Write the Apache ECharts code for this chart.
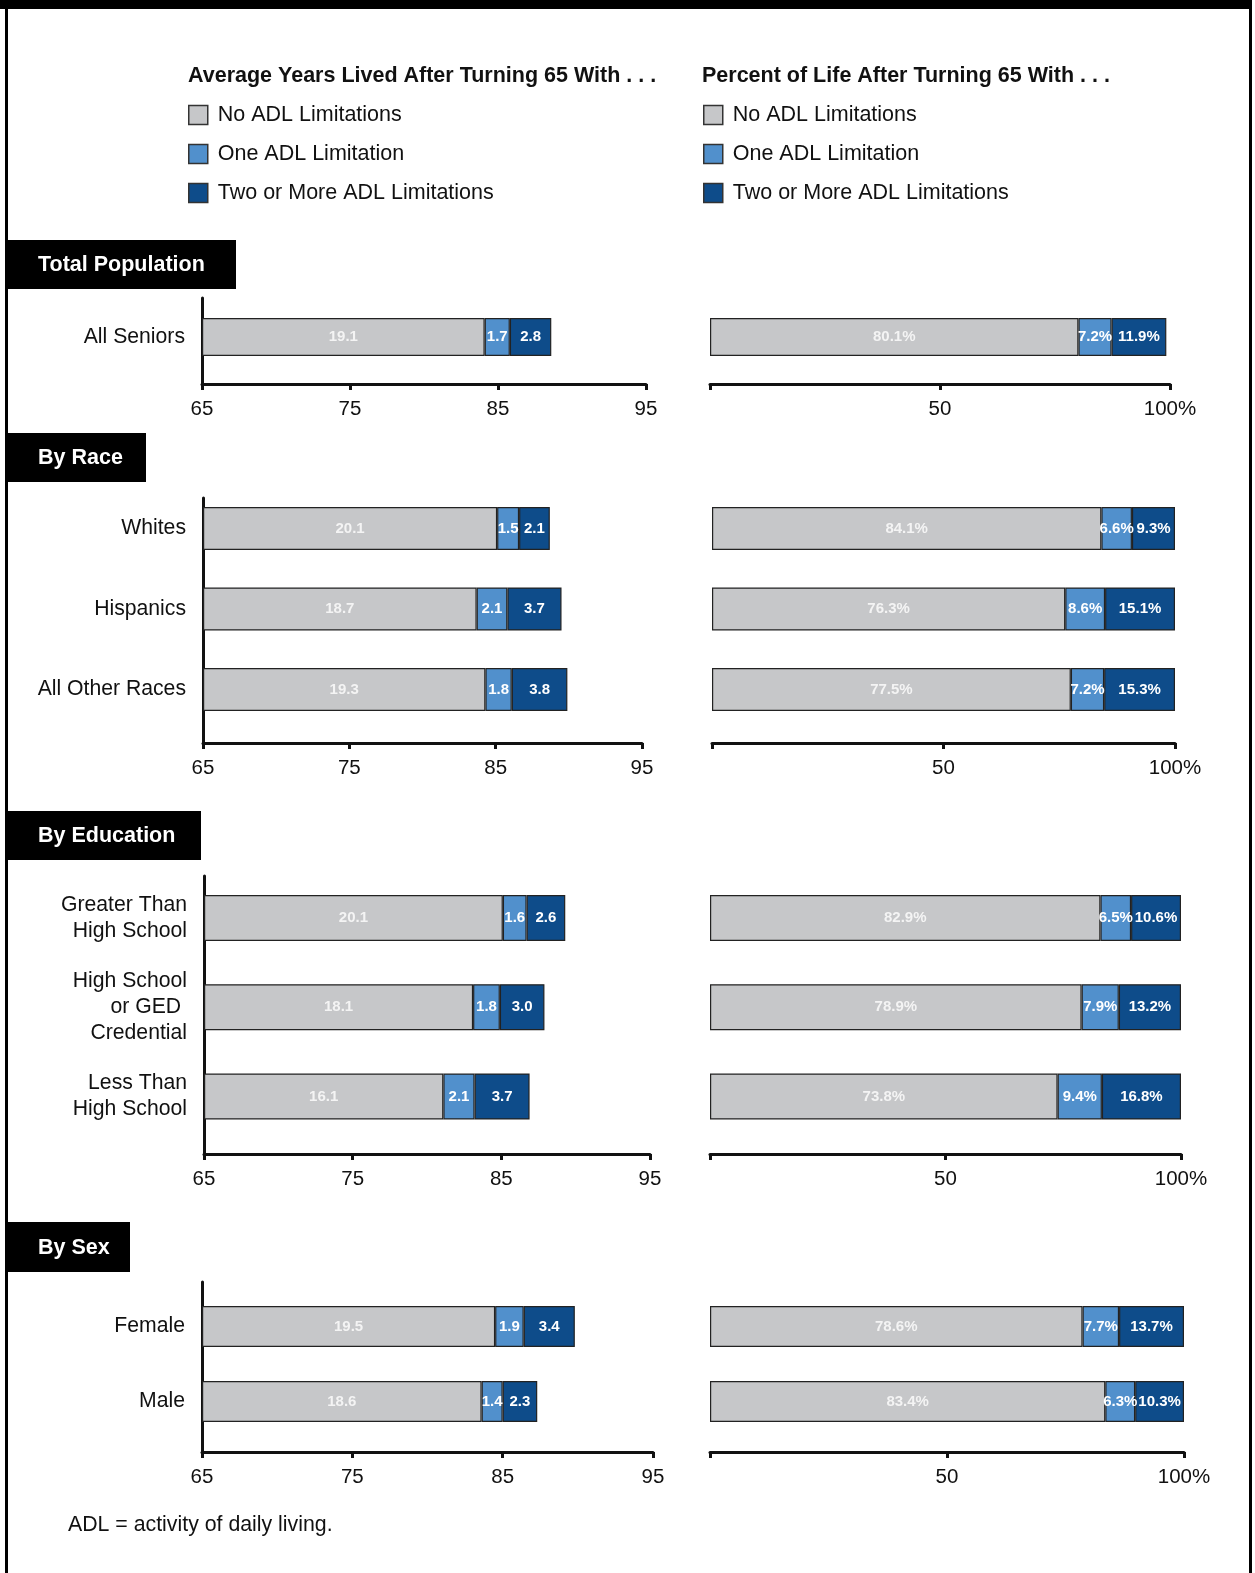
<!DOCTYPE html>
<html>
<head>
<meta charset="utf-8">
<script src="https://cdn.jsdelivr.net/npm/echarts@6/dist/echarts.min.js"></script>
<style>
  html, body { margin: 0; padding: 0; background: #fff; }
  #chart { width: 1255px; height: 1573px; }
</style>
</head>
<body>
<div id="chart"></div>
<script>
// ---- data ----
const seriesNames = ['No ADL Limitations', 'One ADL Limitation', 'Two or More ADL Limitations'];
const sectionTitles = ['Total Population', 'By Race', 'By Education', 'By Sex'];
const yearsLegendTitle = 'Average Years Lived After Turning 65 With . . .';
const percentLegendTitle = 'Percent of Life After Turning 65 With . . .';
const footnote = 'ADL = activity of daily living.';

// ages printed under the years axes (axis counts years lived after 65)
const ageTicks = [65, 75, 85, 95];
// labels printed under the percent axes at 0, 50, 100
const percentTicks = ['', '50', '100%'];

const totalCategories = ['All Seniors'];
const totalYears   = [[19.1], [1.7], [2.8]];
const totalPercent = [[80.1], [7.2], [11.9]];

const raceCategories = ['Whites', 'Hispanics', 'All Other Races'];
const raceYears   = [[20.1, 18.7, 19.3], [1.5, 2.1, 1.8], [2.1, 3.7, 3.8]];
const racePercent = [[84.1, 76.3, 77.5], [6.6, 8.6, 7.2], [9.3, 15.1, 15.3]];

const eduCategories = ['Greater Than\nHigh School', 'High School\nor GED \nCredential', 'Less Than\nHigh School'];
const eduYears   = [[20.1, 18.1, 16.1], [1.6, 1.8, 2.1], [2.6, 3.0, 3.7]];
const eduPercent = [[82.9, 78.9, 73.8], [6.5, 7.9, 9.4], [10.6, 13.2, 16.8]];

const sexCategories = ['Female', 'Male'];
const sexYears   = [[19.5, 18.6], [1.9, 1.4], [3.4, 2.3]];
const sexPercent = [[78.6, 83.4], [7.7, 6.3], [13.7, 10.3]];

// ---- styling / layout ----
const FONT = "'Liberation Sans', Arial, Helvetica, sans-serif";
const COLORS = ['#c6c7c9', '#5190cc', '#0e4c8a'];
const INK = '#111';

const sections = [
  { cats: totalCategories, years: totalYears, pct: totalPercent,
    head: [6, 240, 230, 49], axisTop: 298, axisY: 384, first: 337, step: 80, bar: 38,
    left: [202, 646], right: [710, 1170] },
  { cats: raceCategories, years: raceYears, pct: racePercent,
    head: [6, 433, 140, 49], axisTop: 498, axisY: 743, first: 528.5, step: 80.5, bar: 43,
    left: [203, 642], right: [712, 1175] },
  { cats: eduCategories, years: eduYears, pct: eduPercent,
    head: [6, 811, 195, 49], axisTop: 876, axisY: 1154, first: 918, step: 89.25, bar: 46,
    left: [204, 650], right: [710, 1181] },
  { cats: sexCategories, years: sexYears, pct: sexPercent,
    head: [6, 1222, 124, 50], axisTop: 1282, axisY: 1452, first: 1326.5, step: 75, bar: 41,
    left: [202, 653], right: [710, 1184] }
];

const grid = [], xAxis = [], yAxis = [], series = [], graphic = [];

function addPanel(sec, span, values, isYears, stackId) {
  const [L, R] = span;
  const n = sec.cats.length;
  const maxV = isYears ? ageTicks[ageTicks.length - 1] - ageTicks[0] : 100;
  const intv = isYears ? ageTicks[1] - ageTicks[0] : 50;

  // axes frame grid: visible baseline, ticks and tick labels
  const gA = grid.length;
  grid.push({ left: L, width: R - L, top: sec.axisTop, height: sec.axisY - sec.axisTop });
  xAxis.push({
    gridIndex: gA, type: 'value', min: 0, max: maxV, interval: intv,
    axisLine: { show: true, lineStyle: { color: INK, width: 3 } },
    axisTick: { show: true, length: 6, lineStyle: { color: INK, width: 3 } },
    splitLine: { show: false },
    axisLabel: {
      show: true, margin: 15, fontSize: 20.5, color: INK, fontFamily: FONT,
      formatter: v => isYears ? String(ageTicks[Math.round(v / intv)]) : percentTicks[Math.round(v / intv)]
    }
  });
  yAxis.push({
    gridIndex: gA, type: 'value', min: 0, max: 1, show: isYears,
    axisLine: { show: true, lineStyle: { color: INK, width: 3 } },
    axisTick: { show: false }, axisLabel: { show: false }, splitLine: { show: false }
  });

  // data grid: one band per category
  const gD = grid.length;
  grid.push({ left: L, width: R - L, top: sec.first - sec.step / 2, height: sec.step * n });
  const xi = xAxis.length;
  xAxis.push({ gridIndex: gD, type: 'value', min: 0, max: maxV, show: false });
  const yi = yAxis.length;
  yAxis.push({
    gridIndex: gD, type: 'category', inverse: true, data: sec.cats,
    axisLine: { show: false }, axisTick: { show: false },
    axisLabel: {
      show: isYears, margin: 17, fontSize: 21.2, lineHeight: 26, color: INK, fontFamily: FONT
    }
  });

  values.forEach((vals, k) => {
    series.push({
      name: seriesNames[k], type: 'bar', stack: stackId,
      xAxisIndex: xi, yAxisIndex: yi, barWidth: sec.bar,
      data: vals,
      itemStyle: { color: COLORS[k], borderColor: '#222', borderWidth: 1.2 },
      label: {
        show: true, position: 'inside', color: k === 0 ? '#f4f4f4' : '#fff',
        fontWeight: 'bold', fontSize: 15, fontFamily: FONT,
        formatter: p => isYears ? p.value.toFixed(1) : p.value.toFixed(1) + '%'
      }
    });
  });
}

sections.forEach((sec, i) => {
  addPanel(sec, sec.left, sec.years, true, 'years' + i);
  addPanel(sec, sec.right, sec.pct, false, 'pct' + i);

  const [hx, hy, hw, hh] = sec.head;
  graphic.push({ type: 'rect', shape: { x: hx, y: hy, width: hw, height: hh }, style: { fill: '#000' }, z: 10 });
  graphic.push({
    type: 'text', x: 38, y: hy + hh / 2 + 1, z: 11,
    style: { text: sectionTitles[i], fill: '#fff', font: 'bold 21.5px ' + FONT, verticalAlign: 'middle' }
  });
});

// page frame
graphic.push({ type: 'rect', shape: { x: 0, y: 0, width: 1252, height: 9 }, style: { fill: '#000' }, z: 10 });
graphic.push({ type: 'rect', shape: { x: 5, y: 0, width: 3, height: 1573 }, style: { fill: '#000' }, z: 10 });
graphic.push({ type: 'rect', shape: { x: 1249, y: 0, width: 3, height: 1573 }, style: { fill: '#000' }, z: 10 });

// legend headings and footnote
graphic.push({ type: 'text', x: 188, y: 76, style: { text: yearsLegendTitle, fill: INK, font: 'bold 21.5px ' + FONT, verticalAlign: 'middle' } });
graphic.push({ type: 'text', x: 702, y: 76, style: { text: percentLegendTitle, fill: INK, font: 'bold 21.5px ' + FONT, verticalAlign: 'middle' } });
graphic.push({ type: 'text', x: 68, y: 1525, style: { text: footnote, fill: INK, font: '21.3px ' + FONT, verticalAlign: 'middle' } });

const legendBase = {
  orient: 'vertical', top: 104, padding: 0, itemWidth: 19, itemHeight: 19, itemGap: 17,
  icon: 'rect', selectedMode: false, data: seriesNames,
  itemStyle: { borderColor: '#333', borderWidth: 1.5 },
  textStyle: { fontSize: 21.5, color: INK, fontFamily: FONT, padding: [0, 0, 0, 5] }
};

const chart = echarts.init(document.getElementById('chart'), null, { renderer: 'canvas' });
chart.setOption({
  animation: false,
  backgroundColor: '#fff',
  legend: [Object.assign({}, legendBase, { left: 188 }), Object.assign({}, legendBase, { left: 703 })],
  grid, xAxis, yAxis, series, graphic
});
</script>
</body>
</html>
